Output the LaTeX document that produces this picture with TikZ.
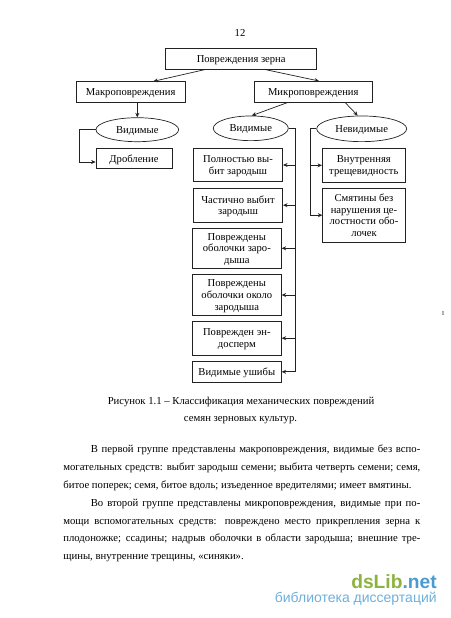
\documentclass[tikz,border=0pt]{standalone}
\usepackage{fontspec}
\setmainfont{Liberation Serif}
\newfontfamily\marksans{Liberation Sans}
\usepackage{xcolor}
\usetikzlibrary{shapes.geometric, arrows.meta, positioning, calc}
\definecolor{markgreen}{HTML}{8DB33F}
\definecolor{markblue}{HTML}{4A9BD0}
\definecolor{inkgray}{HTML}{222222}
\tikzstyle{box} = [rectangle, draw=inkgray, inner sep=0pt, align=center, text depth=0pt, font=\fontsize{10.6}{11.7}\selectfont, text=black]
\tikzstyle{oval} = [ellipse, draw=inkgray, inner sep=0pt, align=center, text depth=0pt, font=\fontsize{10.6}{11.7}\selectfont, text=black]
\tikzstyle{page} = [inner sep=0pt, font=\fontsize{10.7}{12}\selectfont, text=black]
\tikzstyle{arrow} = [draw=inkgray, line width=0.7pt,-{Stealth[length=4.5pt,width=4pt]}]
\tikzstyle{line} = [draw=inkgray, line width=0.7pt]
\newcommand{\fullline}[1]{\makebox[357pt][s]{#1}}
\newcommand{\indline}[1]{\makebox[329.5pt][s]{#1}}

\begin{document}
\begin{tikzpicture}[x=1pt, y=-1pt, line width=0.7pt]
\useasboundingbox (0,0) rectangle (450,618);

\node (pagenum) [page] at (240,33) {12};

% top levels
\node (root) [box, minimum width=151pt, minimum height=20.7pt] at (241.2,58.6) {Повреждения зерна};
\node (macro) [box, minimum width=109.3pt, minimum height=20.6pt] at (130.7,92) {Макроповреждения};
\node (micro) [box, minimum width=117.3pt, minimum height=20.7pt] at (313.3,91.7) {Микроповреждения};

\node (seenleft) [oval, minimum width=82.7pt, minimum height=24pt] at (137.3,129.7) {Видимые};
\node (seenmid) [oval, minimum width=75pt, minimum height=24.7pt] at (250.8,128.3) {Видимые};
\node (unseen) [oval, minimum width=90pt, minimum height=25.7pt] at (361.7,128.8) {Невидимые};

% left column
\node (crush) [box, minimum width=76pt, minimum height=20pt] at (134,158.3) {Дробление};

% middle column
\node (full) [box, minimum width=89.4pt, minimum height=33.4pt] at (238,165) {Полностью вы-\\бит зародыш};
\node (part) [box, minimum width=89.4pt, minimum height=33.7pt] at (238,205.2) {Частично выбит\\зародыш};
\node (shell) [box, minimum width=89pt, minimum height=40pt] at (236.8,248.3) {Повреждены\\оболочки заро-\\дыша};
\node (near) [box, minimum width=89pt, minimum height=40.6pt] at (236.8,295) {Повреждены\\оболочки около\\зародыша};
\node (endo) [box, minimum width=89pt, minimum height=33.7pt] at (236.8,338.2) {Поврежден эн-\\досперм};
\node (bruise) [box, minimum width=89pt, minimum height=20.3pt] at (236.8,371.8) {Видимые ушибы};

% right column
\node (crack) [box, minimum width=83pt, minimum height=34pt] at (363.8,165.3) {Внутренняя\\трещевидность};
\node (crumple) [box, minimum width=82.6pt, minimum height=53.7pt] at (364,215.2) {Смятины без\\нарушения це-\\лостности обо-\\лочек};

\coordinate (busmid) at (295,128.3);
\coordinate (busright) at (310,128.8);
\coordinate (busleft) at (79,129.7);

\draw [arrow] ([xshift=-35pt]root.south) -- ([xshift=22.6pt]macro.north);
\draw [arrow] ([xshift=22.8pt]root.south) -- ([xshift=5.7pt]micro.north);
\draw [arrow] (macro.south -| seenleft.north) -- (seenleft.north);
\draw [arrow] ([xshift=-25.3pt]micro.south) -- ([xshift=1pt]seenmid.north);
\draw [arrow] ([xshift=31.7pt]micro.south) -- ([xshift=-4pt]unseen.north);

\draw [arrow] (seenleft.west) -- (busleft) |- ([yshift=-3.7pt]crush.west);

\draw [line] (seenmid.east) -- (busmid) -- (busmid |- bruise.east);
\foreach \item in {full, part, shell, near, endo, bruise}
  \draw [arrow] (busmid |- \item.east) -- (\item.east);

\draw [line] (unseen.west) -- (busright) -- (busright |- crumple.west);
\foreach \item in {crack, crumple}
  \draw [arrow] (busright |- \item.west) -- (\item.west);

% text of the page
\node (capone) [page] at (241,402) {Рисунок 1.1 – Классификация механических повреждений};
\node (captwo) [page] at (240.5,420) {семян зерновых культур.};

\node (lineone) [page, anchor=base west] at (90.5,452) {\indline{В первой группе представлены макроповреждения, видимые без вспо-}};
\node (linetwo) [page, anchor=base west] at (63,470) {\fullline{могательных средств: выбит зародыш семени; выбита четверть семени; семя,}};
\node (linethree) [page, anchor=base west] at (63,488) {битое поперек; семя, битое вдоль; изъеденное вредителями; имеет вмятины.};
\node (linefour) [page, anchor=base west] at (90.5,506) {\indline{Во второй группе представлены микроповреждения, видимые при по-}};
\node (linefive) [page, anchor=base west] at (63,524) {\fullline{мощи вспомогательных средств: повреждено место прикрепления зерна к}};
\node (linesix) [page, anchor=base west] at (63,541.5) {\fullline{плодоножке; ссадины; надрыв оболочки в области зародыша; внешние тре-}};
\node (lineseven) [page, anchor=base west] at (63,559.5) {щины, внутренние трещины, «синяки».};

% watermark
\node (markname) [inner sep=0pt, anchor=base east, font=\marksans\bfseries\fontsize{19.2}{20}\selectfont] at (437,588) {\textcolor{markgreen}{dsLib}\textcolor{markblue}{.net}};
\node (markline) [inner sep=0pt, anchor=base east, text=markblue!80, font=\marksans\fontsize{14}{16}\selectfont] at (437,602) {библиотека диссертаций};

\node (edgemark) [inner sep=0pt, font=\fontsize{6}{7}\selectfont] at (443,314) {I};
\end{tikzpicture}
\end{document}
